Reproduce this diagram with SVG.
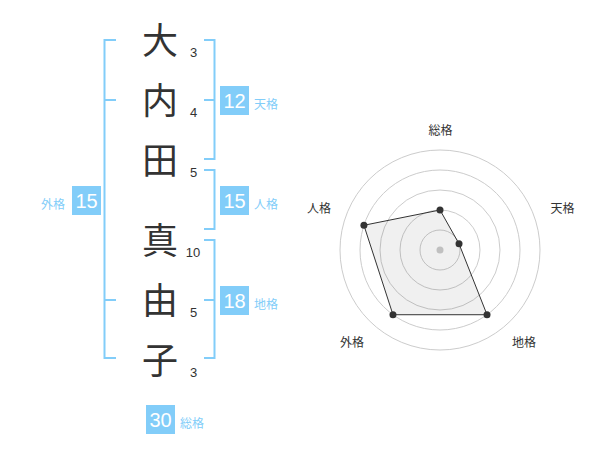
<svg xmlns="http://www.w3.org/2000/svg" width="600" height="470" viewBox="0 0 600 470">
<style>
.ch{font-family:"Noto Sans CJK JP","Noto Sans CJK SC",sans-serif;font-size:36px;fill:#333;text-anchor:middle}
.st{font-family:"Liberation Sans",Arial,sans-serif;font-size:13px;fill:#333;text-anchor:middle}
.br{fill:none;stroke:#82cdf9;stroke-width:2}
.bx{fill:#82cdf9}
.bn{font-family:"Liberation Sans",Arial,sans-serif;font-size:20px;fill:#fff;text-anchor:middle}
.bl{font-family:"Noto Sans CJK JP","Noto Sans CJK SC",sans-serif;font-size:12px;fill:#82cdf9}
.rl{font-family:"Noto Sans CJK JP","Noto Sans CJK SC",sans-serif;font-size:12px;fill:#333;text-anchor:middle}
.ring{fill:none;stroke:#cccccc;stroke-width:1}
.dot{fill:#333}
</style>
<rect width="600" height="470" fill="#fff"/>
<g id="chars">
<g id="c1"><text class="ch" x="160" y="54">大</text><text class="st" x="193.5" y="57">3</text></g>
<g id="c2"><text class="ch" x="160" y="114">内</text><text class="st" x="193.5" y="117">4</text></g>
<g id="c3"><text class="ch" x="160" y="174">田</text><text class="st" x="193.5" y="177">5</text></g>
<g id="c4"><text class="ch" x="160" y="254">真</text><text class="st" x="193" y="257">10</text></g>
<g id="c5"><text class="ch" x="160" y="314">由</text><text class="st" x="193.5" y="317">5</text></g>
<g id="c6"><text class="ch" x="160" y="374">子</text><text class="st" x="193.5" y="377">3</text></g>
</g>
<g id="connectors">
<path class="br" d="M116 40H104.5V358H116M104.5 100H116M104.5 300H116"/>
<path class="br" d="M204 40H214.5V159H204M204 100H214.5"/>
<path class="br" d="M204 170H214.5V229H204"/>
<path class="br" d="M204 240H214.5V358H204M204 300H214.5"/>
</g>
<g id="tenkaku"><rect class="bx" x="220" y="86" width="29" height="29"/><text class="bn" x="234.5" y="107.5">12</text><text class="bl" x="254" y="108.5">天格</text></g>
<g id="jinkaku"><rect class="bx" x="220" y="186" width="29" height="29"/><text class="bn" x="234.5" y="207.5">15</text><text class="bl" x="254" y="208.5">人格</text></g>
<g id="chikaku"><rect class="bx" x="220" y="286" width="29" height="29"/><text class="bn" x="234.5" y="307.5">18</text><text class="bl" x="254" y="308.5">地格</text></g>
<g id="gaikaku"><rect class="bx" x="72" y="186" width="29" height="29"/><text class="bn" x="86.5" y="207.5">15</text><text class="bl" x="41" y="208.5">外格</text></g>
<g id="soukaku"><rect class="bx" x="146" y="405" width="29" height="29"/><text class="bn" x="160.5" y="426.5">30</text><text class="bl" x="180" y="427.5">総格</text></g>
<g id="radar">
<circle class="ring" cx="440" cy="250" r="20"/>
<circle class="ring" cx="440" cy="250" r="40"/>
<circle class="ring" cx="440" cy="250" r="60"/>
<circle class="ring" cx="440" cy="250" r="80"/>
<circle class="ring" cx="440" cy="250" r="100"/>
<circle cx="440" cy="250" r="3.5" fill="#cccccc"/>
<polygon points="440,210 459.02,243.82 487.02,314.72 392.98,314.72 363.92,225.28" fill="#000" fill-opacity="0.06" stroke="#333" stroke-width="1"/>
<circle class="dot" cx="440" cy="210" r="3.5"/>
<circle class="dot" cx="459.02" cy="243.82" r="3.5"/>
<circle class="dot" cx="487.02" cy="314.72" r="3.5"/>
<circle class="dot" cx="392.98" cy="314.72" r="3.5"/>
<circle class="dot" cx="363.92" cy="225.28" r="3.5"/>
<text class="rl" x="440.5" y="135">総格</text>
<text class="rl" x="562.5" y="213">天格</text>
<text class="rl" x="319" y="213">人格</text>
<text class="rl" x="352" y="347">外格</text>
<text class="rl" x="524" y="347">地格</text>
</g>
</svg>
